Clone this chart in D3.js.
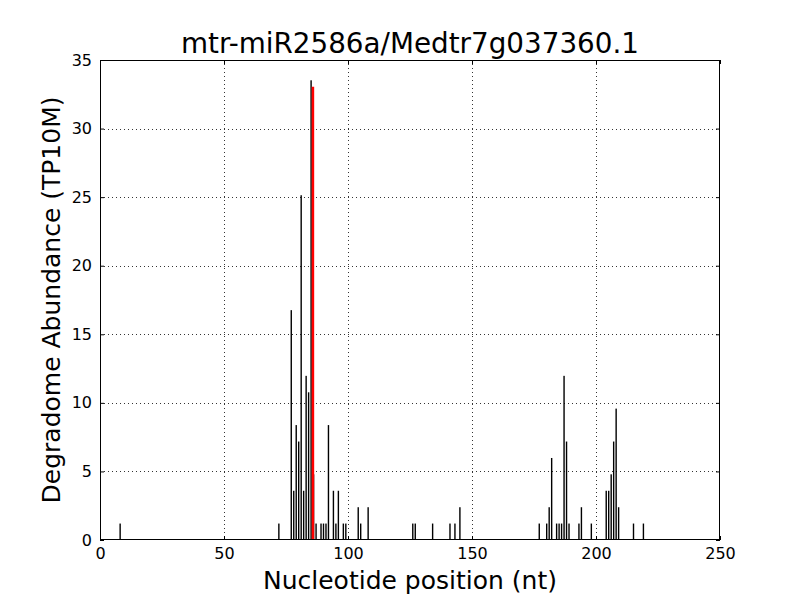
<!DOCTYPE html>
<html>
<head>
<meta charset="utf-8">
<script src="https://cdn.jsdelivr.net/npm/d3@7"></script>
<style>
  body { margin: 0; background: #fff; }
  svg { display: block; font-family: "DejaVu Sans", sans-serif; }
</style>
</head>
<body>
<svg id="chart" width="800" height="600"></svg>
<script>
// ---- data ----
const title = "mtr-miR2586a/Medtr7g037360.1";
const xLabel = "Nucleotide position (nt)";
const yLabel = "Degradome Abundance (TP10M)";
const positions = [8, 72, 77, 78, 79, 80, 81, 82, 83, 84, 85, 86, 87, 89, 90, 91, 92, 94, 95, 96, 98, 99,
  104, 105, 108, 126, 127, 134, 141, 143, 145, 177, 180, 181, 182, 184, 185, 186, 187, 188, 189,
  193, 194, 198, 204, 205, 206, 207, 208, 209, 215, 219];
const abundance = [1.2, 1.2, 16.76, 3.59, 8.38, 7.18, 25.14, 3.59, 11.97, 10.77, 33.52, 4.79, 1.2, 1.2, 1.2, 1.2, 8.38, 3.59, 1.2, 3.59, 1.2, 1.2,
  2.39, 1.2, 2.39, 1.2, 1.2, 1.2, 1.2, 1.2, 2.39, 1.2, 1.2, 2.39, 5.98, 1.2, 1.2, 1.2, 11.97, 7.18, 1.2,
  1.2, 2.39, 1.2, 3.59, 3.59, 4.79, 7.18, 9.58, 2.39, 1.2, 1.2];
const cleavagePos = [85];
const cleavageVal = [33.05];
const xTicks = [0, 50, 100, 150, 200, 250];
const yTicks = [0, 5, 10, 15, 20, 25, 30, 35];

// ---- layout ----
const svg = d3.select("#chart");
const L = 100, R = 720, T = 60, B = 540;
const x = d3.scaleLinear().domain([0, 250]).range([L, R]);
const y = d3.scaleLinear().domain([0, 35]).range([B, T]);

// grid
const grid = svg.append("g").attr("stroke", "#000").attr("stroke-width", 0.8)
  .attr("stroke-dasharray", "1,3");
grid.selectAll(".gx").data(xTicks.slice(1, -1)).join("line")
  .attr("x1", d => Math.round(x(d)) + 0.5).attr("x2", d => Math.round(x(d)) + 0.5)
  .attr("y1", T).attr("y2", B);
grid.selectAll(".gy").data(yTicks.slice(1, -1)).join("line")
  .attr("y1", d => Math.round(y(d)) + 0.5).attr("y2", d => Math.round(y(d)) + 0.5)
  .attr("x1", L).attr("x2", R);

// bars
const bars = positions.map((p, i) => ({ p, v: abundance[i] }));
svg.append("g").selectAll("rect").data(bars).join("rect")
  .attr("x", d => x(d.p) - 0.4)
  .attr("width", 1.4)
  .attr("y", d => y(d.v))
  .attr("height", d => y(0) - y(d.v))
  .attr("fill", "#000");

// cleavage site bar
svg.append("g").selectAll("rect").data(cleavagePos.map((p, i) => ({ p, v: cleavageVal[i] }))).join("rect")
  .attr("x", d => x(d.p) + 0.9)
  .attr("width", d => x(d.p + 1) - x(d.p))
  .attr("y", d => y(d.v))
  .attr("height", d => y(0) - y(d.v))
  .attr("fill", "#ff0000");

// axes (ticks inside, on all four sides)
const axB = d3.axisBottom(x).tickValues(xTicks).tickSizeInner(-4).tickSizeOuter(0).tickPadding(8);
const axT = d3.axisTop(x).tickValues(xTicks).tickSizeInner(-4).tickSizeOuter(0).tickFormat("");
const axLft = d3.axisLeft(y).tickValues(yTicks).tickSizeInner(-4).tickSizeOuter(0).tickPadding(8);
const axRt = d3.axisRight(y).tickValues(yTicks).tickSizeInner(-4).tickSizeOuter(0).tickFormat("");

function style(g) {
  g.select(".domain").remove();
  g.selectAll("text").attr("font-family", "DejaVu Sans").attr("font-size", 16).attr("fill", "#000");
  g.selectAll("line").attr("stroke", "#000");
}
svg.append("g").attr("transform", `translate(0,${B})`).call(axB).call(style);
svg.append("g").attr("transform", `translate(0,${T})`).call(axT).call(style);
svg.append("g").attr("transform", `translate(${L},0)`).call(axLft).call(style);
svg.append("g").attr("transform", `translate(${R},0)`).call(axRt).call(style);

// frame
svg.append("rect").attr("x", L + 0.5).attr("y", T + 0.5).attr("width", R - L - 1).attr("height", B - T - 1)
  .attr("fill", "none").attr("stroke", "#000").attr("stroke-width", 1);

// titles
svg.append("text").attr("x", (L + R) / 2).attr("y", 53).attr("text-anchor", "middle")
  .attr("font-size", 27.8).text(title);
svg.append("text").attr("x", (L + R) / 2).attr("y", 589).attr("text-anchor", "middle")
  .attr("font-size", 25).text(xLabel);
svg.append("text").attr("transform", `translate(60,${(T + B) / 2}) rotate(-90)`).attr("text-anchor", "middle")
  .attr("font-size", 25).text(yLabel);
</script>
</body>
</html>
